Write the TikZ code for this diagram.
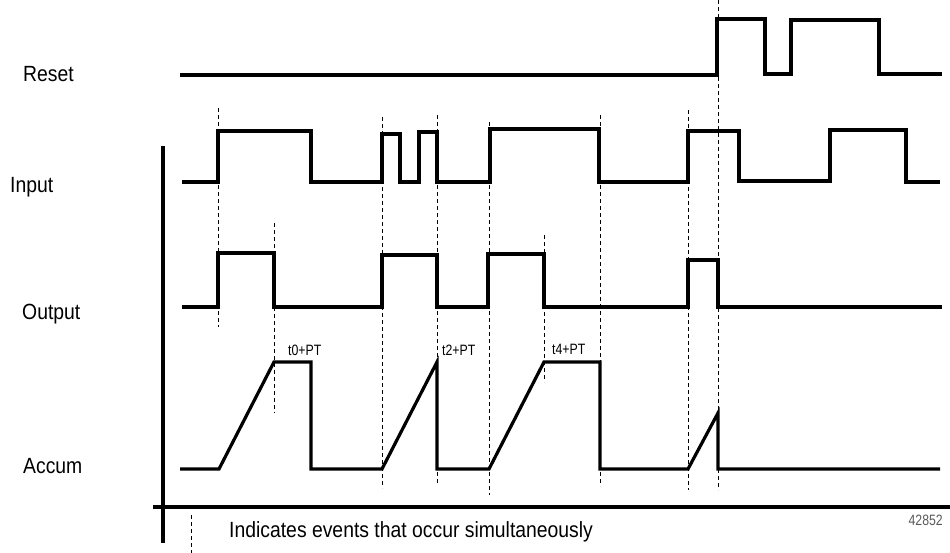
\documentclass[tikz,border=0pt]{standalone}
\usepackage{fontspec}
\setmainfont{Liberation Sans}
\newfontfamily\condfont[FakeStretch=0.88]{Liberation Sans}
\newfontfamily\smallcondfont[FakeStretch=0.82]{Liberation Sans}
\begin{document}
\begin{tikzpicture}[x=1pt,y=-1pt,
  signal/.style={line width=3.2pt,line join=miter,line cap=butt},
  evline/.style={line width=1pt,dash pattern=on 4pt off 3pt},
  axisline/.style={line width=3.2pt},
  siglabel/.style={anchor=base west,inner sep=0pt,font=\condfont\fontsize{22}{25}\selectfont},
  small/.style={anchor=base west,inner sep=0pt,font=\smallcondfont\fontsize{15}{17}\selectfont}]
\useasboundingbox (0,0) rectangle (950,553);
% event lines
\foreach \x/\a/\b in {218/108/327, 274/223/413, 382/117/488, 437/115/484, 489/122/495, 544/235/382, 600/115/486, 688/110/490, 718/0/490}
  \draw[evline] (\x,\a) -- (\x,\b);
% signals
\draw[signal] (180,75) -- (717,75) -- (717,19) -- (765,19) -- (765,74) -- (791,74) -- (791,20) -- (879,20) -- (879,74) -- (942,74);
\draw[signal] (182,182) -- (218,182) -- (218,131) -- (311,131) -- (311,182) -- (382,182) -- (382,134) -- (400,134) -- (400,182) -- (419,182) -- (419,132) -- (437,132) -- (437,182) -- (490,182) -- (490,129) -- (599,129) -- (599,182) -- (688,182) -- (688,131) -- (739,131) -- (739,181) -- (830,181) -- (830,130) -- (906,130) -- (906,182) -- (940,182);
\draw[signal] (182,307) -- (218,307) -- (218,253) -- (274,253) -- (274,307) -- (382,307) -- (382,255) -- (437,255) -- (437,307) -- (488,307) -- (488,254) -- (544,254) -- (544,307) -- (688,307) -- (688,260) -- (718,260) -- (718,307) -- (942,307);
\draw[signal] (180,469) -- (219,469) -- (274,362) -- (311,362) -- (311,469) -- (382,469) -- (437,362) -- (437,469) -- (489,469) -- (544,362) -- (600,362) -- (600,469) -- (688,469) -- (718,413) -- (718,469) -- (940,469);
% axes
\draw[axisline] (163,146) -- (163,543);
\draw[axisline] (153,507) -- (950,507);
% legend
\draw[evline] (191,515) -- (191,553);
\node[siglabel] (legend) at (229,537) {Indicates events that occur simultaneously};
% signal labels
\node[siglabel] (reset) at (23,82) {Reset};
\node[siglabel] (input) at (10,193) {Input};
\node[siglabel] (output) at (22,319) {Output};
\node[siglabel] (accum) at (23,473) {Accum};
% time labels
\node[small] (t0) at (288,355) {t0+PT};
\node[small] (t2) at (442,355) {t2+PT};
\node[small] (t4) at (552,354) {t4+PT};
\node[small,anchor=base east,text=black!65] (fig) at (943,525) {42852};
\end{tikzpicture}
\end{document}
